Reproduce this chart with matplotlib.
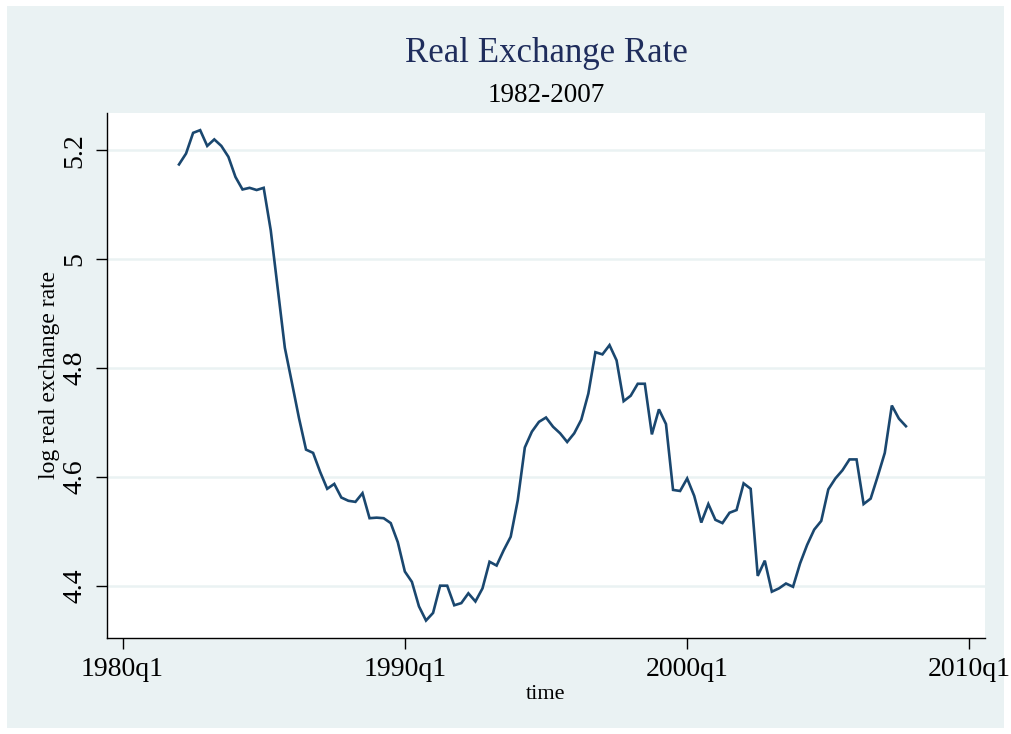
#!/usr/bin/env python3
"""
Real exchange rate (log), quarterly 1982q1-2007q4, Stata s2color look.
"""

import numpy as np
import matplotlib.pyplot as plt
from matplotlib.patches import Rectangle

# quarterly values, 1982q1 .. 2007q4
start_year = 1982
log_rer = [
    5.174, 5.194, 5.232, 5.237,   # 1982
    5.208, 5.220, 5.208, 5.188,   # 1983
    5.151, 5.128, 5.131, 5.127,   # 1984
    5.131, 5.053, 4.945, 4.837,   # 1985
    4.773, 4.708, 4.650, 4.644,   # 1986
    4.609, 4.578, 4.587, 4.562,   # 1987
    4.556, 4.554, 4.570, 4.524,   # 1988
    4.525, 4.524, 4.515, 4.480,   # 1989
    4.426, 4.407, 4.362, 4.336,   # 1990
    4.350, 4.400, 4.400, 4.364,   # 1991
    4.368, 4.386, 4.371, 4.395,   # 1992
    4.444, 4.437, 4.465, 4.490,   # 1993
    4.557, 4.654, 4.683, 4.701,   # 1994
    4.709, 4.692, 4.680, 4.664,   # 1995
    4.680, 4.705, 4.753, 4.829,   # 1996
    4.825, 4.842, 4.814, 4.739,   # 1997
    4.749, 4.771, 4.771, 4.678,   # 1998
    4.724, 4.697, 4.576, 4.574,   # 1999
    4.597, 4.565, 4.516, 4.550,   # 2000
    4.521, 4.515, 4.534, 4.539,   # 2001
    4.588, 4.578, 4.418, 4.446,   # 2002
    4.389, 4.395, 4.404, 4.398,   # 2003
    4.441, 4.475, 4.503, 4.519,   # 2004
    4.577, 4.597, 4.612, 4.632,   # 2005
    4.632, 4.550, 4.560, 4.601,   # 2006
    4.644, 4.731, 4.707, 4.693,   # 2007
]

x_ticks = [1980, 1990, 2000, 2010]
x_tick_labels = ['1980q1', '1990q1', '2000q1', '2010q1']
y_ticks = [4.4, 4.6, 4.8, 5.0, 5.2]
y_tick_labels = ['4.4', '4.6', '4.8', '5', '5.2']

W, H = 1011, 734
navy = '#1A476F'
bg = '#EAF2F3'

plt.rcParams['font.family'] = ['Liberation Serif', 'DejaVu Serif']

fig = plt.figure(figsize=(W / 100, H / 100), dpi=100, facecolor='white')
fig.patches.append(Rectangle((7 / W, 6 / H), (W - 14) / W, (H - 12) / H,
                             transform=fig.transFigure, facecolor=bg,
                             edgecolor='none', zorder=-10))

# plot region in pixels
left, right, top, bottom = 107, 985, 113, 637.5
ax = fig.add_axes([left / W, (H - bottom) / H, (right - left) / W, (bottom - top) / H])
ax.set_facecolor('white')

t = start_year + np.arange(len(log_rer)) / 4.0
ax.plot(t, log_rer, color=navy, linewidth=1.9, solid_joinstyle='miter')

ax.set_xlim(1979.45, 2010.55)
ax.set_ylim(4.3048, 5.2685)
ax.set_xticks(x_ticks)
ax.set_xticklabels(x_tick_labels, fontsize=20)
ax.set_yticks(y_ticks)
ax.set_yticklabels(y_tick_labels, fontsize=20, rotation=90, va='center')
ax.tick_params(axis='both', direction='out', length=8, width=1, color='black', pad=6)

ax.grid(axis='y', color=bg, linewidth=1.8)
ax.set_axisbelow(True)
for side in ['top', 'right']:
    ax.spines[side].set_visible(False)
for side in ['left', 'bottom']:
    ax.spines[side].set_linewidth(1)

ax.set_xlabel('time', fontsize=16, labelpad=2)
ax.set_ylabel('log real exchange rate', fontsize=17, labelpad=2)

cx = (left + right) / 2 / W
fig.text(cx, 1 - 53 / H, 'Real Exchange Rate', ha='center', va='center',
         fontsize=25, color='#1F2D5C')
fig.text(cx, 1 - 95 / H, '1982-2007', ha='center', va='center', fontsize=19.5, color='black')

plt.savefig('out.png', dpi=100, facecolor=fig.get_facecolor())
